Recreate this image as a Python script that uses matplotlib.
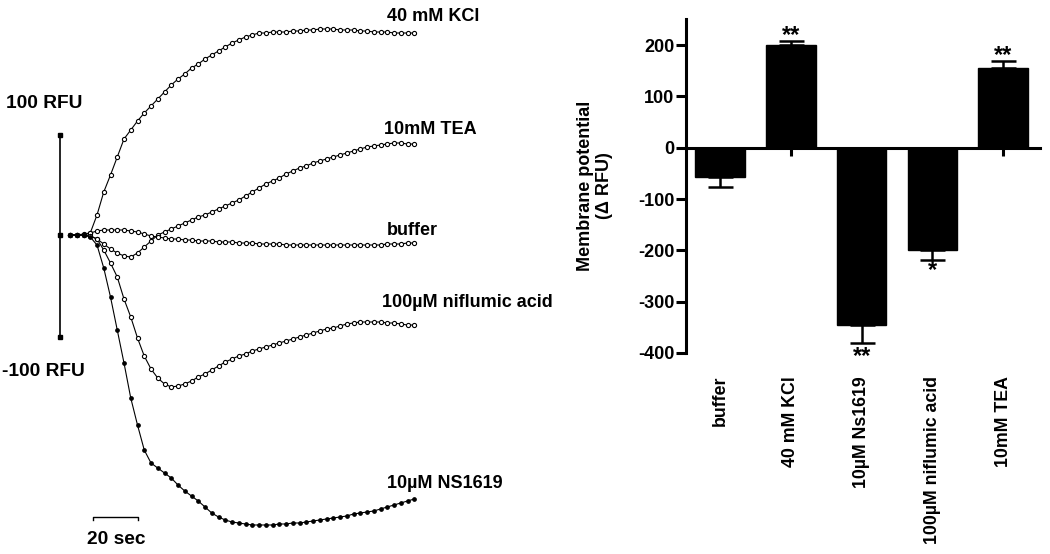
import numpy as np
import matplotlib
matplotlib.use('Agg')
import matplotlib.pyplot as plt
from matplotlib.transforms import blended_transform_factory

plt.rcParams['font.family'] = ['Liberation Sans', 'DejaVu Sans']

# ---------------- left panel: time courses (RFU vs seconds) ----------------
time_s = list(range(0, 154, 3))

kcl = [0, 0, 0, 2, 20, 43, 60, 78, 96, 105, 114, 122, 129, 136, 143, 150, 156, 161,
       167, 171, 176, 180, 184, 188, 192, 195, 198, 200, 202, 202, 203, 203, 203, 204,
       204, 205, 205, 206, 206, 206, 205, 205, 205, 204, 204, 203, 203, 203, 202, 202,
       202, 202]
tea = [0, 0, 0, -1, -4, -9, -14, -18, -21, -22, -18, -12, -6, 0, 3, 6, 9, 12, 15, 18,
       20, 23, 26, 29, 32, 35, 39, 43, 47, 51, 54, 57, 61, 64, 67, 69, 72, 74, 76, 78,
       80, 82, 84, 86, 88, 89, 90, 91, 92, 92, 91, 91]
buffer_trace = [0, 0, 1, 2, 4, 5, 5, 5, 5, 4, 3, 1, -1, -2, -3, -4, -4, -5, -5, -6, -6,
                -6, -7, -7, -7, -8, -8, -8, -9, -9, -9, -9, -10, -10, -10, -10, -10, -10,
                -10, -10, -10, -10, -10, -10, -10, -10, -10, -9, -9, -9, -8, -8]
niflumic = [0, 0, 0, -1, -4, -15, -28, -42, -64, -82, -103, -121, -134, -143, -149,
            -152, -151, -149, -146, -142, -139, -135, -131, -127, -124, -121, -119, -116,
            -114, -112, -110, -108, -106, -104, -102, -100, -98, -96, -94, -93, -91, -89,
            -88, -87, -87, -87, -87, -88, -88, -89, -90, -90]
ns1619 = [0, 0, 0, -2, -10, -33, -62, -95, -128, -163, -190, -215, -228, -233, -238,
          -243, -250, -256, -261, -266, -272, -278, -282, -285, -287, -288, -289, -290,
          -290, -290, -290, -289, -289, -288, -288, -287, -286, -285, -284, -283, -282,
          -281, -279, -278, -277, -276, -274, -272, -270, -268, -266, -264]

trace_labels = ['40 mM KCl', '10mM TEA', 'buffer', '100\u00b5M niflumic acid', '10\u00b5M NS1619']

# ---------------- right panel: bar chart ----------------
categories = ['buffer', '40 mM KCl', '10\u00b5M Ns1619', '100\u00b5M niflumic acid', '10mM TEA']
means = [-57, 200, -345, -199, 156]
sem = [19, 9, 35, 20, 13]
stars = ['', '**', '**', '*', '**']
yticks = [-400, -300, -200, -100, 0, 100, 200]

W, H = 1050, 554
fig = plt.figure(figsize=(W / 100, H / 100), dpi=100)

# left axes: 1 px = 1 RFU vertically; 2.25 px per second horizontally
axL = fig.add_axes([0, 0, 450 / W, 1])
axL.set_xlim(-70 / 2.25, 380 / 2.25)
axL.set_ylim(235 - 554, 235)
axL.axis('off')

open_kw = dict(color='black', lw=0.8, marker='o', markersize=3.0, mfc='white',
               mec='black', mew=0.8)
for series in [kcl, tea, buffer_trace, niflumic]:
    axL.plot(time_s, series, **open_kw)
axL.plot(time_s, ns1619, color='black', lw=0.8, marker='o', markersize=2.4,
         mfc='black', mec='black')

label_pos = [(140.9, 214), (139.6, 101), (140.9, 0), (138.7, -72), (140.9, -253)]
for (tx, ty), lab in zip(label_pos, trace_labels):
    axL.text(tx, ty, lab, fontsize=13, fontweight='bold', ha='left', va='baseline')

# vertical scale bar (+/-100 RFU)
sbx = -4.6
axL.plot([sbx, sbx], [100, -102], color='black', lw=1.2)
axL.plot([sbx, sbx, sbx], [100, 0, -102], ls='none', marker='s', markersize=3,
         color='black')
axL.text(-28.3, 132, '100 RFU', fontsize=13.8, fontweight='bold', ha='left', va='center')
axL.text(-30.0, -137, '-100 RFU', fontsize=13.8, fontweight='bold', ha='left', va='center')

# horizontal scale bar (20 s)
axL.plot([10.2, 10.2, 30.2, 30.2], [-285, -282, -282, -285], color='black', lw=1.0)
axL.text(20.4, -305, '20 sec', fontsize=13.8, fontweight='bold', ha='center', va='center')

# bar chart axes
x0, x1 = 686, 1040
ytop, ybot = 19.5, 353
axR = fig.add_axes([x0 / W, (H - ybot) / H, (x1 - x0) / W, (ybot - ytop) / H])
xpos = list(range(len(categories)))
lower = [s if m < 0 else 0 for m, s in zip(means, sem)]
upper = [s if m > 0 else 0 for m, s in zip(means, sem)]
axR.bar(xpos, means, width=0.7, color='black', edgecolor='black', zorder=2)
axR.errorbar(xpos, means, yerr=[lower, upper], fmt='none', ecolor='black',
             elinewidth=1.8, capsize=9, capthick=1.8, zorder=3)
axR.set_xlim(-0.48, 4.52)
axR.set_ylim(-400, 250)
axR.set_yticks(yticks)
axR.set_yticklabels([str(v) for v in yticks], fontsize=13, fontweight='bold')
axR.set_xticks(xpos)
axR.set_xticklabels([])
axR.spines['top'].set_visible(False)
axR.spines['right'].set_visible(False)
axR.spines['bottom'].set_position(('data', 0))
for sp in ['left', 'bottom']:
    axR.spines[sp].set_linewidth(2.2)
axR.tick_params(axis='y', length=7, width=2.2, pad=1.5)
axR.tick_params(axis='x', length=6, width=2.2, direction='out')

star_y = [0, 218, -407, -240, 180]
for i, (s, sy) in enumerate(zip(stars, star_y)):
    if s:
        axR.text(i, sy, s, fontsize=17, fontweight='bold', ha='center', va='center')

tr = blended_transform_factory(axR.transData, fig.transFigure)
for i, lab in enumerate(categories):
    axR.text(i, (H - 376) / H, lab, transform=tr, rotation=90, fontsize=12.8,
             fontweight='bold', ha='center', va='top')

fig.text(595 / W, 1 - 186 / H, 'Membrane potential\n(\u0394 RFU)', rotation=90,
         fontsize=13, fontweight='bold', ha='center', va='center',
         multialignment='center', linespacing=1.2)

fig.savefig('out.png', dpi=100)
